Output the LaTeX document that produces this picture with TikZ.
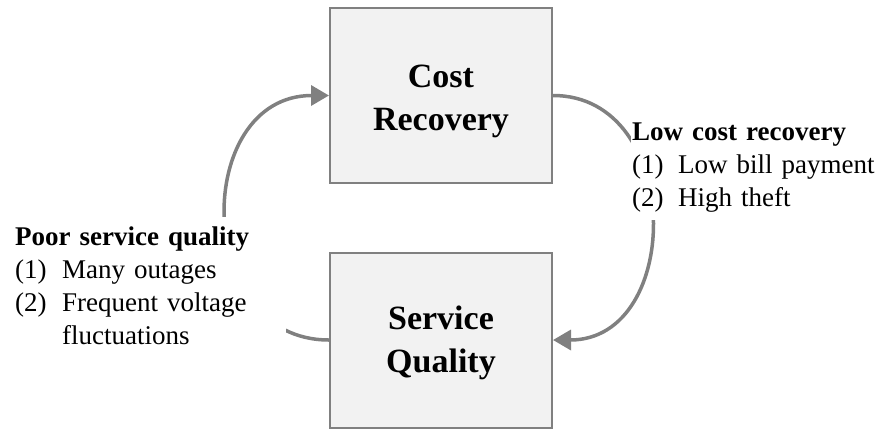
\documentclass[tikz,border=0pt]{standalone}
\usepackage{fontspec}
\setmainfont{Liberation Serif}
\usetikzlibrary{arrows.meta}
\definecolor{linegray}{HTML}{808080}
\definecolor{boxfill}{HTML}{F2F2F2}
\begin{document}
\begin{tikzpicture}[x=1pt,y=-1pt,
  box/.style={draw=linegray, line width=2pt, fill=boxfill, minimum width=222pt, minimum height=175pt, inner sep=0pt, align=center, font=\fontsize{34}{43}\selectfont\bfseries},
  loop/.style={draw=linegray, line width=3.5pt, -{Triangle[length=18pt,width=20pt]}},
  note/.style={fill=white, align=left, inner xsep=1pt, font=\fontsize{27}{33}\selectfont}
]
\useasboundingbox (0,0) rectangle (878,429);
\node[box] (cost) at (441,95.5) {\rule{0pt}{34pt}Cost\\Recovery};
\node[box] (service) at (441,340) {\rule{0pt}{30pt}Service\\Quality};
\draw[loop] (cost.east) .. controls +(131,0) and +(131,0) .. (service.east);
\draw[loop] (service.west) .. controls +(-137,0) and +(-137,0) .. (cost.west);
\node[note, anchor=north west, inner ysep=10pt, text width=270pt] (poor) at (14,217)
  {\textbf{Poor service quality}\\
   \makebox[47pt][l]{(1)}Many outages\\
   \makebox[47pt][l]{(2)}Frequent voltage\\
   \hspace*{47pt}fluctuations};
\node[note, anchor=south west, inner ysep=7pt, text width=246pt] (low) at (631,220)
  {\textbf{Low cost recovery}\\
   \makebox[46pt][l]{(1)}Low bill payment\\
   \makebox[46pt][l]{(2)}High theft};
\end{tikzpicture}
\end{document}
